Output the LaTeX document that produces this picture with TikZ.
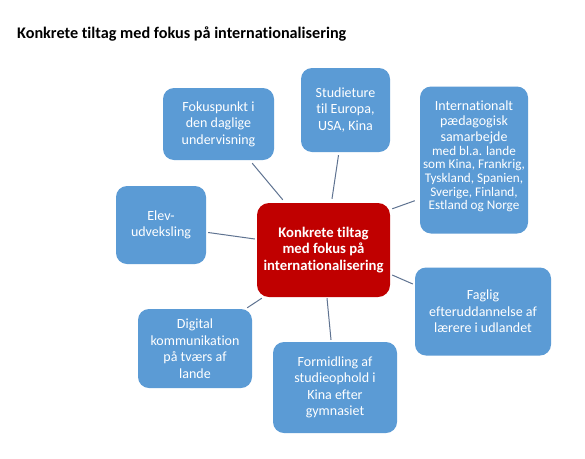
\documentclass[tikz,border=0pt]{standalone}
\usepackage{fontspec}
\setmainfont{Carlito}[Ligatures=NoCommon]
\usetikzlibrary{calc}
\definecolor{boxblue}{HTML}{5B9BD5}
\definecolor{boxred}{HTML}{C00000}
\definecolor{linkc}{HTML}{5F7391}
\begin{document}
\begin{tikzpicture}[x=1pt,y=-1pt,
  bbox/.style={fill=boxblue, rounded corners=11pt, text=white, align=center,
    inner sep=0pt, font=\fontsize{14}{16.5}\selectfont},
  rbox/.style={fill=boxred, rounded corners=12pt, text=white, align=center,
    inner sep=0pt, font=\bfseries\fontsize{14.7}{16.5}\selectfont},
  link/.style={draw=linkc, line width=1pt}]
\useasboundingbox (0,0) rectangle (585,458);
\fill[white] (0,0) rectangle (585,458);

\node[anchor=west, inner sep=0pt, font=\bfseries\fontsize{16.2}{18}\selectfont] (title) at (17,34)
  {Konkrete tiltag med fokus på internationalisering};

\node[rbox, minimum width=133pt, minimum height=94pt] (c) at (323.5,250)
  {Konkrete tiltag\\med fokus på\\internationalisering};

\node[bbox, minimum width=111pt, minimum height=72pt] (fok) at (218.5,124)
  {Fokuspunkt i\\den daglige\\undervisning};
\node[bbox, minimum width=89pt, minimum height=84pt] (stu) at (345.5,110)
  {Studieture\\til Europa,\\USA, Kina};
\node[bbox, minimum width=108pt, minimum height=147pt, text width=106pt, align=none] (int) at (474,160)
  {\centering{\fontsize{14}{15.5}\selectfont Internationalt\\pædagogisk\\samarbejde\par}%
   {\fontsize{13.2}{13.7}\selectfont med bl.a. lande\\som Kina, Frankrig,\\Tyskland, Spanien,\\Sverige, Finland,\\Estland og Norge\par}\vspace{7pt}};
\node[bbox, minimum width=90pt, minimum height=78pt] (elev) at (161,225)
  {Elev-\\udveksling};
\node[bbox, minimum width=136pt, minimum height=88pt] (fag) at (483,311.5)
  {Faglig\\efteruddannelse af\\lærere i udlandet};
\node[bbox, minimum width=114pt, minimum height=79pt] (dig) at (195,348.5)
  {Digital\\kommunikation\\på tværs af\\lande};
\node[bbox, minimum width=124pt, minimum height=91pt] (for) at (335,387.5)
  {Formidling af\\studieophold i\\Kina efter\\gymnasiet};

\draw[link] ($(fok.south east)+(-22,3)$) -- ($(c.north west)+(26,-3)$);
\draw[link] ($(stu.south)+(-7,3)$) -- ($(c.north)+(8.5,-4)$);
\draw[link] ($(int.south west)+(-5,-33)$) -- ($(c.north east)+(2,6)$);
\draw[link] ($(elev.east)+(2,7.5)$) -- ($(c.west)+(-2,-11)$);
\draw[link] ($(fag.west)+(-2,-27.5)$) -- ($(c.east)+(2,25)$);
\draw[link] ($(dig.north east)+(-5,-1)$) -- ($(c.south west)+(5,1)$);
\draw[link] ($(for.north)+(-4,-2)$) -- ($(c.south)+(3.5,1)$);
\end{tikzpicture}
\end{document}
